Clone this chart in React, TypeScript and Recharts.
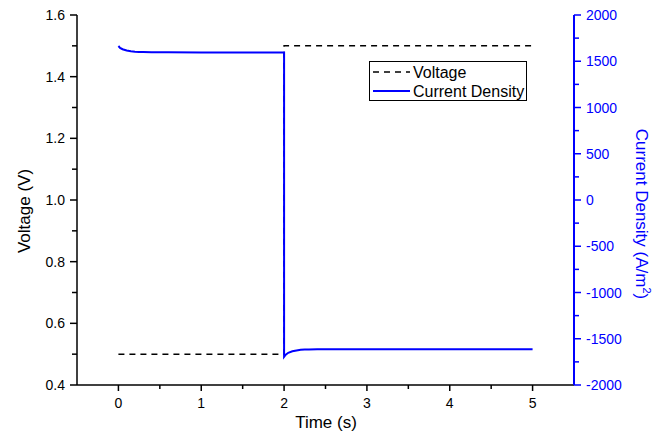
import React from "react";
import { Label, Legend, Line, LineChart, XAxis, YAxis } from "recharts";

// voltage step (V)
const timeV = [0, 2, 2, 5];
const voltage = [0.5, 0.5, 1.5, 1.5];

// current density response (A/m2)
const timeJ = [
  0, 0.02, 0.05, 0.1, 0.15, 0.2, 0.25, 0.3, 0.4, 0.6, 1.0, 1.5, 2.0, 2.0, 2.02, 2.05, 2.1, 2.15,
  2.2, 2.25, 2.3, 2.4, 2.6, 3.0, 4.0, 5.0,
];
const currentDensity = [
  1665, 1645, 1630, 1617, 1609, 1604, 1601, 1599, 1597, 1596, 1595, 1595, 1595, -1695, -1672,
  -1652, -1636, -1626, -1620, -1617, -1615, -1614, -1613, -1613, -1613, -1613,
];

const xMajor = [0, 1, 2, 3, 4, 5];
const xMinor = [0.5, 1.5, 2.5, 3.5, 4.5];
const leftMajor = [0.4, 0.6, 0.8, 1.0, 1.2, 1.4, 1.6];
const leftMinor = [0.5, 0.7, 0.9, 1.1, 1.3, 1.5];
const rightMajor = [-2000, -1500, -1000, -500, 0, 500, 1000, 1500, 2000];
const rightMinor = [-1750, -1250, -750, -250, 250, 750, 1250, 1750];

const seriesList = [
  { key: "v", name: "Voltage", color: "#000000", dash: "6 5", width: 1.5 },
  { key: "j", name: "Current Density", color: "#0000ff", dash: undefined, width: 2 },
];

const voltageData = timeV.map((t, i) => ({ t, v: voltage[i] }));
const currentData = timeJ.map((t, i) => ({ t, j: currentDensity[i] }));

const FONT = '"Liberation Sans", Arial, sans-serif';
const BLUE = "#0000ff";

const BottomTick = (props: any) => {
  const { x, y, payload } = props;
  const major = xMajor.includes(payload.value);
  return (
    <g>
      <line x1={x} x2={x} y1={y} y2={y + (major ? 6 : 4)} stroke="#000" strokeWidth={1.5} />
      {major ? (
        <text x={x} y={y + 23} textAnchor="middle" fontSize={14} fontFamily={FONT} fill="#000">
          {payload.value}
        </text>
      ) : null}
    </g>
  );
};

const TopTick = (props: any) => {
  const { x, y, payload } = props;
  const major = xMajor.includes(payload.value);
  return <line x1={x} x2={x} y1={y} y2={y + (major ? 8 : 4)} stroke="#000" strokeWidth={1.5} />;
};

const LeftTick = (props: any) => {
  const { x, y, payload } = props;
  const major = leftMajor.includes(payload.value);
  return (
    <g>
      <line x1={x} x2={x - (major ? 7 : 5)} y1={y} y2={y} stroke="#000" strokeWidth={1.5} />
      {major ? (
        <text x={x - 12} y={y + 5} textAnchor="end" fontSize={14} fontFamily={FONT} fill="#000">
          {payload.value.toFixed(1)}
        </text>
      ) : null}
    </g>
  );
};

const RightTick = (props: any) => {
  const { x, y, payload } = props;
  const major = rightMajor.includes(payload.value);
  return (
    <g>
      <line x1={x} x2={x + (major ? 7 : 5)} y1={y} y2={y} stroke={BLUE} strokeWidth={1.5} />
      {major ? (
        <text x={x + 12} y={y + 5} textAnchor="start" fontSize={14} fontFamily={FONT} fill={BLUE}>
          {payload.value}
        </text>
      ) : null}
    </g>
  );
};

const LegendBox = () => (
  <svg width={158} height={40} style={{ display: "block" }}>
    <rect x={0.5} y={0.5} width={157} height={39} fill="#fff" stroke="#000" strokeWidth={1} />
    {seriesList.map((s, i) => (
      <g key={s.key}>
        <line
          x1={4}
          x2={41}
          y1={11 + i * 19}
          y2={11 + i * 19}
          stroke={s.color}
          strokeWidth={s.width}
          strokeDasharray={s.dash}
        />
        <text x={44} y={17 + i * 19} fontSize={16} fontFamily={FONT} fill="#000">
          {s.name}
        </text>
      </g>
    ))}
  </svg>
);

export default function App() {
  return (
    <div style={{ position: "absolute", left: 0, top: 0, background: "#fff" }}>
      <LineChart width={667} height={435} margin={{ top: 15, right: 33, bottom: 20, left: 17 }}>
        <XAxis
          dataKey="t"
          type="number"
          domain={[-0.5, 5.5]}
          allowDataOverflow
          ticks={[...xMajor, ...xMinor].sort((a, b) => a - b)}
          interval={0}
          tickSize={0}
          tickMargin={0}
          tickLine={false}
          tick={BottomTick}
          height={30}
          axisLine={{ stroke: "#000", strokeWidth: 1.5 }}
        >
          <Label
            content={() => (
              <text x={326} y={428} textAnchor="middle" fontSize={17} fontFamily={FONT} fill="#000">
                Time (s)
              </text>
            )}
          />
        </XAxis>
        <XAxis
          xAxisId="top"
          orientation="top"
          dataKey="t"
          type="number"
          domain={[-0.5, 5.5]}
          allowDataOverflow
          ticks={[...xMajor, ...xMinor].sort((a, b) => a - b)}
          interval={0}
          tickSize={0}
          tickMargin={0}
          tickLine={false}
          tick={TopTick}
          height={0}
          axisLine={{ stroke: "#000", strokeWidth: 1.5 }}
        />
        <YAxis
          yAxisId="left"
          type="number"
          domain={[0.4, 1.6]}
          allowDataOverflow
          ticks={[...leftMajor, ...leftMinor].sort((a, b) => a - b)}
          interval={0}
          tickSize={0}
          tickMargin={0}
          tickLine={false}
          tick={LeftTick}
          width={60}
          axisLine={{ stroke: "#000", strokeWidth: 1.5 }}
        >
          <Label
            content={() => (
              <text
                x={30}
                y={211}
                transform="rotate(-90 30 211)"
                textAnchor="middle"
                fontSize={17}
                fontFamily={FONT}
                fill="#000"
              >
                Voltage (V)
              </text>
            )}
          />
        </YAxis>
        <YAxis
          yAxisId="right"
          orientation="right"
          type="number"
          domain={[-2000, 2000]}
          allowDataOverflow
          ticks={[...rightMajor, ...rightMinor].sort((a, b) => a - b)}
          interval={0}
          tickSize={0}
          tickMargin={0}
          tickLine={false}
          tick={RightTick}
          width={60}
          axisLine={{ stroke: BLUE, strokeWidth: 2 }}
        >
          <Label
            content={() => (
              <text
                x={636}
                y={214}
                transform="rotate(90 636 214)"
                textAnchor="middle"
                fontSize={17}
                fontFamily={FONT}
                fill={BLUE}
              >
                Current Density (A/m
                <tspan dy={-7} fontSize={11}>
                  2
                </tspan>
                <tspan dy={7}>)</tspan>
              </text>
            )}
          />
        </YAxis>
        <Line
          data={voltageData}
          yAxisId="left"
          dataKey="v"
          name={seriesList[0].name}
          type="linear"
          stroke={seriesList[0].color}
          strokeWidth={seriesList[0].width}
          strokeDasharray={seriesList[0].dash}
          dot={false}
          activeDot={false}
          isAnimationActive={false}
        />
        <Line
          data={currentData}
          yAxisId="right"
          dataKey="j"
          name={seriesList[1].name}
          type="linear"
          stroke={seriesList[1].color}
          strokeWidth={seriesList[1].width}
          dot={false}
          activeDot={false}
          isAnimationActive={false}
        />
        <Legend
          layout="horizontal"
          verticalAlign="middle"
          align="center"
          wrapperStyle={{ left: 369, top: 61, width: 158, height: 40 }}
          content={() => <LegendBox />}
        />
      </LineChart>
    </div>
  );
}
